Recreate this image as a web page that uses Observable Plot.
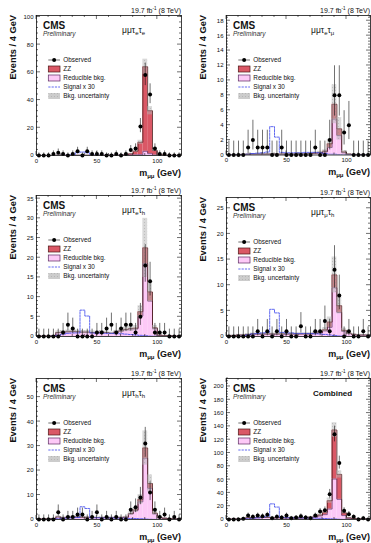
<!DOCTYPE html>
<html><head><meta charset="utf-8">
<script src="https://cdn.jsdelivr.net/npm/d3@7"></script>
<script src="https://cdn.jsdelivr.net/npm/@observablehq/plot@0.6"></script>
<style>
html,body{margin:0;padding:0;background:#fff;}
#root{position:relative;width:371px;height:543px;overflow:hidden;}
.panel{position:absolute;}
</style></head><body>
<svg width="0" height="0" style="position:absolute">
 <defs>
  <pattern id="hatch" width="3" height="3" patternUnits="userSpaceOnUse">
   <rect width="3" height="3" fill="#b4b4b4" fill-opacity="0.5"/>
   <rect width="1" height="1" fill="#8a8a8a" fill-opacity="0.35"/>
  </pattern>
 </defs>
</svg>
<div id="root"></div>
<script>
// ---------------- data ----------------
const binLow = [0,4,8,12,16,20,24,28,32,36,40,44,48,52,56,60,64,68,72,76,80,84,88,92,96,100,104,108,112,116];
const binWidth = 4;
const xDomain = [0, 120];
const xTicks = [0, 50, 100];

// mu mu tau_e tau_e
const obsEE = [0,0,0,1,2,1,0,1,3,0,3,1,1,1,0,0,1,0,1,4,5,21,58,44,5,1,1,0,0,0];
const zzEE  = [0,0,0,0,0.05,0.05,0.05,0.05,0.05,0.05,0.05,0.05,0.05,0.05,0.05,0.1,0.1,0.15,0.3,1.0,2.8,9.0,61.0,31.0,3.3,0.5,0.2,0.1,0.05,0.05];
const redEE = [0.05,0.05,0.05,0.05,0.1,0.1,0.1,0.1,0.1,0.1,0.1,0.1,0.1,0.1,0.1,0.1,0.1,0.1,0.15,0.2,0.3,0.5,3.0,1.3,0.3,0.1,0.05,0.05,0.05,0.05];
const sigEE = [0,0,0,0,0.05,0.1,0.2,0.5,2.0,2.5,2.0,0.3,0.2,0.1,0.1,0.1,0.1,0.1,0.1,0.1,0.05,0.05,0.05,0,0,0,0,0,0,0];
const uncEE = [0.05,0.05,0.05,0.05,0.1,0.1,0.1,0.1,0.1,0.1,0.1,0.1,0.1,0.1,0.1,0.1,0.15,0.15,0.2,0.4,0.8,1.5,5.5,3.0,0.6,0.2,0.1,0.1,0.05,0.05];
const yTicksEE = [0,20,40,60,80,100];

// mu mu tau_e tau_mu
const obsEM = [0,0,0,0,1,2,1,1,1,0,0,1,0,0,0,0,0,0,1,0,0,2,8,8,3,4,0,0,0,0];
const zzEM  = [0,0,0,0,0,0,0,0,0,0,0,0,0,0,0,0,0,0,0.02,0.05,0.1,0.5,2.0,0.9,0.1,0.03,0.02,0.01,0,0];
const redEM = [0.02,0.02,0.05,0.08,0.1,0.12,0.12,0.12,0.12,0.12,0.12,0.12,0.12,0.12,0.12,0.15,0.15,0.2,0.25,0.3,0.4,1.0,4.8,2.6,0.3,0.1,0.05,0.05,0.05,0.05];
const sigEM = [0,0,0.02,0.05,0.1,0.2,0.25,0.3,0.4,3.8,2.4,0.35,0.3,0.3,0.3,0.3,0.35,0.35,0.35,0.3,0.2,0.1,0.1,0.05,0.02,0,0,0,0,0];
const uncEM = [0.02,0.02,0.03,0.04,0.05,0.06,0.06,0.06,0.06,0.06,0.06,0.06,0.06,0.06,0.06,0.07,0.07,0.1,0.12,0.15,0.2,0.6,2.6,1.5,0.2,0.06,0.04,0.03,0.03,0.03];
const yTicksEM = [0,2,4,6,8,10,12,14,16,18];

// mu mu tau_e tau_h
const obsETH = [0,0,0,0,0,1,3,2,0,0,0,0,1,1,2,3,1,2,3,3,1,5,18,14,1,1,1,0,0,0];
const zzETH  = [0,0,0,0,0.02,0.02,0.02,0.02,0.02,0.02,0.02,0.02,0.02,0.02,0.02,0.03,0.05,0.05,0.1,0.1,0.2,1.1,4.0,2.3,0.2,0.05,0.02,0.02,0,0];
const redETH = [0.1,0.1,0.1,0.2,1.0,1.1,1.2,1.3,1.2,1.1,1.1,1.0,1.0,1.1,1.0,0.8,1.1,1.4,1.7,1.9,1.9,5.2,18.5,9.0,2.0,0.3,0.2,0.2,0.1,0.1];
const sigETH = [0,0,0,0.1,0.3,0.6,0.8,0.9,0.9,6.7,5.2,0.9,0.8,0.8,0.8,0.8,0.7,0.7,0.6,0.5,0.4,0.3,0.2,0.1,0.05,0,0,0,0,0];
const uncETH = [0.05,0.05,0.05,0.1,0.4,0.4,0.4,0.45,0.4,0.4,0.4,0.35,0.35,0.4,0.35,0.3,0.4,0.5,0.6,0.7,0.7,1.5,7.5,2.5,0.6,0.15,0.1,0.1,0.05,0.05];
const yTicksETH = [0,5,10,15,20,25,30,35];

// mu mu tau_mu tau_h
const obsMTH = [0,0,0,0,0,0,1,0,1,0,1,0,1,0,0,2,0,0,1,1,3,1,13,8,0,1,0,0,1,0];
const zzMTH  = [0,0,0,0,0,0,0,0,0,0,0,0,0,0,0,0.02,0.02,0.03,0.05,0.1,0.2,1.0,2.5,1.3,0.2,0.05,0.02,0.01,0,0];
const redMTH = [0.2,0.2,0.3,0.3,0.4,0.5,0.5,0.5,0.5,0.5,0.5,0.5,0.5,0.5,0.5,0.5,0.5,0.5,0.6,0.7,1.1,1.8,9.5,4.7,1.0,0.6,0.4,0.3,0.3,0.3];
const sigMTH = [0,0,0,0.1,0.3,0.5,0.6,0.7,0.8,5.3,4.6,0.8,0.7,0.7,0.6,0.6,0.6,0.6,0.5,0.5,0.4,0.3,0.2,0.1,0.05,0,0,0,0,0];
const uncMTH = [0.1,0.1,0.12,0.12,0.15,0.2,0.2,0.2,0.2,0.2,0.2,0.2,0.2,0.2,0.2,0.2,0.2,0.2,0.25,0.3,0.4,1.0,3.5,1.6,0.4,0.25,0.15,0.12,0.12,0.12];
const yTicksMTH = [0,5,10,15,20,25];

// mu mu tau_h tau_h
const obsTT = [0,0,0,0,3,0,1,1,2,2,0,1,3,0,1,0,1,0,0,4,5,9,31,11,4,1,2,0,1,0];
const zzTT  = [0,0,0,0,0,0,0,0,0,0,0,0,0,0,0,0.02,0.03,0.05,0.05,0.1,0.3,1.0,4.2,2.0,0.3,0.05,0.02,0.01,0,0];
const redTT = [0.2,0.2,0.3,0.4,1.1,0.8,0.9,1.0,1.1,1.0,0.9,0.9,0.8,0.8,0.8,0.8,0.8,0.8,0.9,2.3,3.6,7.2,25.0,12.7,2.3,0.8,0.5,0.4,0.3,0.3];
const sigTT = [0,0,0,0.1,0.3,0.5,0.6,0.7,0.8,5.2,4.5,0.7,0.7,0.6,0.6,0.6,0.5,0.5,0.5,0.4,0.4,0.3,0.2,0.1,0.05,0,0,0,0,0];
const uncTT = [0.1,0.1,0.12,0.15,0.4,0.3,0.35,0.4,0.4,0.4,0.35,0.35,0.3,0.3,0.3,0.3,0.3,0.3,0.35,0.7,1.0,2.0,7.0,3.5,0.7,0.3,0.2,0.15,0.12,0.12];
const yTicksTT = [0,10,20,30,40,50];

// combined
const obsALL = [0,0,0,1,6,4,6,5,7,2,4,3,6,2,3,5,3,2,6,12,14,38,128,85,13,8,4,0,2,0];
const zzALL  = [0,0,0,0,0.07,0.07,0.07,0.07,0.07,0.07,0.07,0.07,0.07,0.07,0.07,0.17,0.2,0.28,0.52,1.35,3.6,12.6,73.7,37.5,4.1,0.68,0.26,0.14,0.05,0.05];
const redALL = [0.57,0.57,0.8,1.03,2.7,2.62,2.82,3.02,3.02,2.82,2.72,2.62,2.52,2.62,2.52,2.35,2.65,3.0,3.6,5.4,7.3,15.7,60.8,30.3,5.9,1.9,1.2,1.0,0.8,0.8];
const sigALL = [0,0,0.02,0.35,1.05,1.9,2.45,3.1,4.9,23.5,18.7,3.05,2.7,2.5,2.4,2.4,2.25,2.25,2.05,1.8,1.45,1.05,0.75,0.35,0.17,0,0,0,0,0];
const uncALL = [0.3,0.3,0.35,0.4,0.9,0.9,0.9,1.0,1.0,0.9,0.9,0.9,0.9,0.9,0.9,0.9,0.9,1.0,1.2,1.6,2.2,4.0,11,5.5,1.5,0.7,0.5,0.4,0.35,0.35];
const yTicksALL = [0,20,40,60,80,100,120,140,160,180,200];

const legendLabels = ["Observed", "ZZ", "Reducible bkg.", "Signal x 30", "Bkg. uncertainty"];

// ---------------- style ----------------
const FONT = "'Liberation Sans', Arial, Helvetica, sans-serif";
const RED = "#da5866";
const RED_LINE = "#4a1515";
const PINK = "#fdc9f7";
const PINK_LINE = "#5a2a60";
const BLUE = "#3a45ee";

const panels = [
  {obs: obsEE, zz: zzEE, red: redEE, sig: sigEE, unc: uncEE, yMax: 101, yTicks: yTicksEE, chan: [["μμτ",0],["e",1],["τ",0],["e",1]], col: 0, row: 0, mt: 15, mb: 25},
  {obs: obsEM, zz: zzEM, red: redEM, sig: sigEM, unc: uncEM, yMax: 18.7, yTicks: yTicksEM, chan: [["μμτ",0],["e",1],["τ",0],["μ",1]], col: 1, row: 0, mt: 15, mb: 25.5},
  {obs: obsETH, zz: zzETH, red: redETH, sig: sigETH, unc: uncETH, yMax: 35.8, yTicks: yTicksETH, chan: [["μμτ",0],["e",1],["τ",0],["h",1]], col: 0, row: 1, mt: 15, mb: 24},
  {obs: obsMTH, zz: zzMTH, red: redMTH, sig: sigMTH, unc: uncMTH, yMax: 27.1, yTicks: yTicksMTH, chan: [["μμτ",0],["μ",1],["τ",0],["h",1]], col: 1, row: 1, mt: 17, mb: 24},
  {obs: obsTT, zz: zzTT, red: redTT, sig: sigTT, unc: uncTT, yMax: 57.6, yTicks: yTicksTT, chan: [["μμτ",0],["h",1],["τ",0],["h",1]], col: 0, row: 2, mt: 18, mb: 24},
  {obs: obsALL, zz: zzALL, red: redALL, sig: sigALL, unc: uncALL, yMax: 212, yTicks: yTicksALL, chan: null, col: 1, row: 2, mt: 18, mb: 24}
];

// Garwood-like Poisson interval approximations for observed counts
const errLo = n => n === 0 ? 0 : n - Math.sqrt(n - 0.25);
const errHi = n => n + 1 + Math.sqrt(n + 0.75);

function buildRows(p) {
  return binLow.map((lo, i) => ({
    lo, hi: lo + binWidth, c: lo + binWidth / 2,
    red: p.red[i], tot: p.red[i] + p.zz[i], sig: p.sig[i], unc: p.unc[i],
    obs: p.obs[i], eLo: errLo(p.obs[i]), eHi: errHi(p.obs[i])
  }));
}

const root = document.getElementById("root");

function drawPanel(p) {
  const W = p.col === 0 ? 185 : 186;
  const H = p.row === 2 ? 183 : 180;
  const ml = p.col === 0 ? 36 : 41;
  const mr = p.col === 0 ? 4 : 1;
  const rows = buildRows(p);
  const last = rows[rows.length - 1];
  const steps = rows.map(r => ({x: r.lo, red: r.red, tot: r.tot, sig: r.sig}));
  steps.push({x: xDomain[1], red: last.red, tot: last.tot, sig: last.sig});

  const svg = Plot.plot({
    width: W, height: H,
    marginLeft: ml, marginRight: mr, marginTop: p.mt, marginBottom: p.mb,
    x: {domain: xDomain},
    y: {domain: [0, p.yMax]},
    style: {fontFamily: FONT, fontSize: "6px", background: "transparent", color: "#111", overflow: "visible"},
    marks: [
      Plot.rect(rows, {x1: "lo", x2: "hi", y1: 0, y2: "red", fill: PINK, clip: true}),
      Plot.rect(rows, {x1: "lo", x2: "hi", y1: "red", y2: "tot", fill: RED, clip: true}),
      Plot.line(steps, {x: "x", y: "red", curve: "step-after", stroke: PINK_LINE, strokeWidth: 0.7, clip: true}),
      Plot.line(steps, {x: "x", y: "tot", curve: "step-after", stroke: RED_LINE, strokeWidth: 0.8, clip: true}),
      Plot.rect(rows, {x1: "lo", x2: "hi", y1: d => Math.max(0, d.tot - d.unc), y2: d => d.tot + d.unc, fill: "url(#hatch)", clip: true}),
      Plot.line(steps, {x: "x", y: "sig", curve: "step-after", stroke: BLUE, strokeWidth: 0.8, strokeDasharray: "2.2,1.1", clip: true}),
      Plot.ruleX(rows, {x: "c", y1: "eLo", y2: "eHi", stroke: "#111", strokeWidth: 0.6, clip: true}),
      Plot.dot(rows, {x: "c", y: "obs", r: 2, fill: "#000", stroke: "none"}),
      Plot.axisX(xTicks, {tickSize: 0, tickPadding: 3, label: null, fontSize: 6}),
      Plot.axisY(p.yTicks, {tickSize: 0, tickPadding: 3, label: null, fontSize: 6}),
      Plot.frame({stroke: "#111", strokeWidth: 0.8})
    ]
  });

  const div = document.createElement("div");
  div.className = "panel";
  div.style.left = (p.col === 0 ? 0 : 185) + "px";
  div.style.top = [0, 180, 360][p.row] + "px";
  div.appendChild(svg);
  root.appendChild(div);

  const fl = ml, fr = W - mr, ft = p.mt, fb = H - p.mb;
  const xs = svg.scale("x"), ys = svg.scale("y");
  const s = d3.select(svg);
  const g = s.append("g").attr("stroke", "#111").attr("stroke-width", 0.6);

  // inward ticks (major + minor), mirrored on opposite sides
  const yStep = (p.yTicks[1] - p.yTicks[0]) / 5;
  for (let k = 0; k * yStep <= p.yMax + 1e-9; k++) {
    const v = k * yStep, py = ys.apply(v);
    const len = k % 5 === 0 ? 4 : 2;
    g.append("line").attr("x1", fl).attr("x2", fl + len).attr("y1", py).attr("y2", py);
    g.append("line").attr("x1", fr).attr("x2", fr - len).attr("y1", py).attr("y2", py);
  }
  const xStep = (xTicks[1] - xTicks[0]) / 5;
  for (let k = 0; k * xStep <= xDomain[1] + 1e-9; k++) {
    const v = k * xStep, px = xs.apply(v);
    const len = k % 5 === 0 ? 4 : 2;
    g.append("line").attr("x1", px).attr("x2", px).attr("y1", fb).attr("y2", fb - len);
    g.append("line").attr("x1", px).attr("x2", px).attr("y1", ft).attr("y2", ft + len);
  }

  const t = s.append("g").attr("font-family", FONT).attr("fill", "#111").attr("text-anchor", "start");
  // luminosity label
  const lumi = t.append("text").attr("x", fr).attr("y", ft - 2.5).attr("text-anchor", "end").attr("font-size", 7);
  lumi.append("tspan").text("19.7 fb");
  lumi.append("tspan").attr("dy", -2.6).attr("font-size", 4.6).text("-1");
  lumi.append("tspan").attr("dy", 2.6).text(" (8 TeV)");
  // CMS / Preliminary
  t.append("text").attr("x", fl + 7).attr("y", ft + 14.3).attr("font-size", 10).attr("font-weight", "bold").text("CMS");
  t.append("text").attr("x", fl + 7).attr("y", ft + 20.8).attr("font-size", 6.5).attr("font-style", "italic").attr("fill", "#333").text("Preliminary");
  // channel label
  if (p.chan) {
    const ct = t.append("text").attr("x", fr - 59).attr("y", ft + 18).attr("font-size", 8.5);
    let shifted = 0;
    for (const [str, sub] of p.chan) {
      const dy = sub ? 2.2 - shifted : -shifted;
      shifted = sub ? 2.2 : 0;
      ct.append("tspan").attr("dy", dy).attr("font-size", sub ? 6 : 8.5).text(str);
    }
  } else {
    t.append("text").attr("x", fr - 57).attr("y", ft + 18).attr("font-size", 8).attr("font-weight", "bold").text("Combined");
  }
  // axis titles
  t.append("text").attr("transform", `translate(${fl - 20.5},${ft}) rotate(-90)`).attr("text-anchor", "end")
    .attr("font-size", 9.3).attr("font-weight", "bold").text("Events / 4 GeV");
  const xt = t.append("text").attr("x", fr).attr("y", fb + 20.5).attr("text-anchor", "end").attr("font-size", 9).attr("font-weight", "bold");
  xt.append("tspan").text("m");
  xt.append("tspan").attr("dy", 2).attr("font-size", 6).text("μμ");
  xt.append("tspan").attr("dy", -2).text(" (GeV)");

  // legend
  const lg = s.append("g").attr("text-anchor", "start");
  const sx0 = fl + 12.3, sx1 = fl + 24;
  legendLabels.forEach((lab, k) => {
    const cy = ft + 45 + 9 * k;
    if (k === 0) {
      lg.append("line").attr("x1", sx0).attr("x2", sx1).attr("y1", cy).attr("y2", cy).attr("stroke", "#111").attr("stroke-width", 0.6);
      lg.append("circle").attr("cx", (sx0 + sx1) / 2).attr("cy", cy).attr("r", 2).attr("fill", "#000");
    } else if (k === 1) {
      lg.append("rect").attr("x", sx0).attr("y", cy - 3).attr("width", sx1 - sx0).attr("height", 6).attr("fill", RED).attr("stroke", RED_LINE).attr("stroke-width", 0.7);
    } else if (k === 2) {
      lg.append("rect").attr("x", sx0).attr("y", cy - 3).attr("width", sx1 - sx0).attr("height", 6).attr("fill", PINK).attr("stroke", PINK_LINE).attr("stroke-width", 0.7);
    } else if (k === 3) {
      lg.append("line").attr("x1", sx0).attr("x2", sx1).attr("y1", cy).attr("y2", cy).attr("stroke", BLUE).attr("stroke-width", 0.8).attr("stroke-dasharray", "2.2,1.1");
    } else {
      lg.append("rect").attr("x", sx0).attr("y", cy - 3).attr("width", sx1 - sx0).attr("height", 6).attr("fill", "#e4e4e4");
      lg.append("rect").attr("x", sx0).attr("y", cy - 3).attr("width", sx1 - sx0).attr("height", 6).attr("fill", "url(#hatch)");
    }
    lg.append("text").attr("x", fl + 27.3).attr("y", cy + 2.2).attr("font-family", FONT).attr("font-size", 6.4).attr("fill", "#111").text(lab);
  });
}

panels.forEach(drawPanel);
</script>
</body></html>
